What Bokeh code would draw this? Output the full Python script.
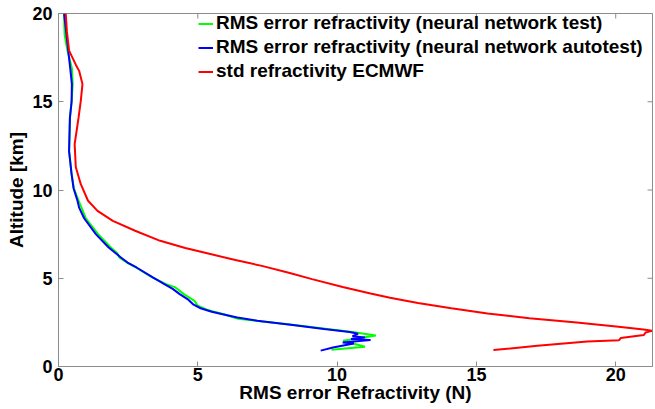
import math
from bokeh.plotting import figure
from bokeh.models import Range1d, LinearAxis, FixedTicker, Legend, LegendItem
from bokeh.embed import file_html
from bokeh.resources import INLINE

# RMS error of refractivity, neural network test set (altitude km, error N)
test_alt = [20.0, 18.8, 17.9, 16.9, 16.0, 15.0, 14.1, 12.2, 10.9, 10.1, 9.4, 8.4,
            7.5, 6.74, 6.4, 6.18, 5.89, 5.61, 5.04, 4.67, 4.48, 4.10, 3.72, 3.44,
            3.20, 2.97, 2.78, 2.70, 2.55, 2.36, 2.12, 1.95, 1.75, 1.46, 1.12, 0.95]
test_err = [0.20, 0.22, 0.32, 0.48, 0.51, 0.47, 0.41, 0.38, 0.47, 0.55, 0.72, 0.98,
            1.42, 1.88, 2.12, 2.18, 2.45, 2.78, 3.38, 3.86, 4.20, 4.50, 4.88, 5.00,
            5.35, 5.90, 6.30, 6.45, 7.30, 8.40, 9.65, 10.55, 11.39, 10.22, 11.00, 9.80]

# RMS error of refractivity, neural network autotest set
auto_alt = [20.0, 18.3, 16.9, 16.0, 15.0, 14.1, 12.2, 10.9, 10.1, 9.4, 9.0, 8.4,
            7.5, 6.74, 6.18, 5.89, 5.61, 5.04, 4.67, 4.40, 4.10, 3.82, 3.50, 3.30,
            3.10, 2.97, 2.78, 2.59, 2.36, 2.12, 1.95, 1.85, 1.72, 1.65, 1.56, 1.50,
            1.36, 1.30, 1.08, 0.90]
auto_err = [0.20, 0.32, 0.42, 0.48, 0.47, 0.41, 0.38, 0.47, 0.54, 0.68, 0.74, 0.92,
            1.34, 1.80, 2.24, 2.48, 2.80, 3.40, 3.80, 4.10, 4.35, 4.63, 4.85, 5.10,
            5.50, 5.85, 6.42, 7.14, 8.33, 9.53, 10.45, 10.75, 10.55, 11.00, 10.50, 11.20,
            10.20, 10.60, 9.85, 9.41]

# Standard deviation of ECMWF refractivity
ecmwf_alt = [20.0, 19.0, 17.9, 17.1, 16.75, 16.0, 15.05, 14.1, 12.6, 11.3, 10.33, 9.39,
             8.82, 8.25, 7.69, 7.12, 6.71, 6.37, 6.03, 5.70, 5.30, 4.95, 4.50, 4.14,
             3.90, 3.60, 3.30, 3.00, 2.74, 2.49, 2.25, 2.10, 2.02, 1.93, 1.78, 1.61,
             1.49, 1.42, 1.17, 0.93]
ecmwf_std = [0.26, 0.30, 0.38, 0.62, 0.74, 0.86, 0.80, 0.72, 0.58, 0.62, 0.80, 1.06,
             1.40, 1.95, 2.75, 3.65, 4.55, 5.45, 6.35, 7.30, 8.30, 9.10, 10.20, 11.20,
             11.90, 12.90, 14.10, 15.40, 16.90, 18.60, 20.10, 21.00, 21.30, 21.07, 21.01, 20.18,
             20.12, 18.98, 17.19, 15.61]

ticks = [0, 5, 10, 15, 20]
labels = ["RMS error refractivity (neural network test)",
          "RMS error refractivity (neural network autotest)",
          "std refractivity ECMWF"]

X_MAX = 21.32
Y_MAX = 20.0
FONT = "Liberation Sans"
GREY = "#8c8c8c"

p = figure(frame_width=594, frame_height=353, output_backend="svg",
           toolbar_location=None, x_axis_location=None, y_axis_location=None,
           min_border_left=58, min_border_right=3, min_border_top=13, min_border_bottom=43,
           x_range=Range1d(0, X_MAX), y_range=Range1d(0, Y_MAX))
p.grid.visible = False
p.outline_line_color = GREY
p.outline_line_width = 1
p.background_fill_color = "white"
p.border_fill_color = "white"

def make_axis(label):
    ax = LinearAxis(ticker=FixedTicker(ticks=ticks))
    ax.axis_line_color = GREY
    ax.major_tick_line_color = GREY
    ax.major_tick_in = 5
    ax.major_tick_out = 0
    ax.minor_tick_line_color = None
    ax.major_label_text_font = FONT
    ax.major_label_text_font_style = "bold"
    ax.major_label_text_font_size = "18px"
    ax.major_label_text_color = "black"
    ax.axis_label = label
    ax.axis_label_text_font = FONT
    ax.axis_label_text_font_style = "bold"
    ax.axis_label_text_font_size = "19px"
    ax.axis_label_text_color = "black"
    return ax

xb = make_axis("RMS error Refractivity (N)")
xb.major_label_standoff = 1
xb.axis_label_standoff = -2
yl = make_axis("Altitude [km]")
yl.major_label_standoff = 6
yl.axis_label_standoff = 2
p.add_layout(xb, "below")
p.add_layout(yl, "left")

# inward tick marks along the top and right edges of the box
p.scatter(ticks, [Y_MAX] * len(ticks), marker="dash", angle=math.pi / 2, size=10,
          line_color=GREY, line_width=1)
p.scatter([X_MAX] * len(ticks), ticks, marker="dash", size=10,
          line_color=GREY, line_width=1)

r_test = p.line(test_err, test_alt, line_color="#00ff00", line_width=2)
r_auto = p.line(auto_err, auto_alt, line_color="#0000ff", line_width=2)
r_ecm = p.line(ecmwf_std, ecmwf_alt, line_color="#ff0000", line_width=2)

legend = Legend(items=[LegendItem(label=labels[0], renderers=[r_test]),
                       LegendItem(label=labels[1], renderers=[r_auto]),
                       LegendItem(label=labels[2], renderers=[r_ecm])],
                location=(139, 283))
legend.border_line_alpha = 0
legend.background_fill_alpha = 0
legend.padding = 1
legend.margin = 0
legend.spacing = 2
legend.glyph_width = 15
legend.glyph_height = 21
legend.label_height = 21
legend.label_standoff = 3
legend.label_text_font = FONT
legend.label_text_font_style = "bold"
legend.label_text_font_size = "19px"
legend.label_text_color = "black"
p.add_layout(legend, "center")

open("out.html", "w").write(file_html(p, INLINE))
